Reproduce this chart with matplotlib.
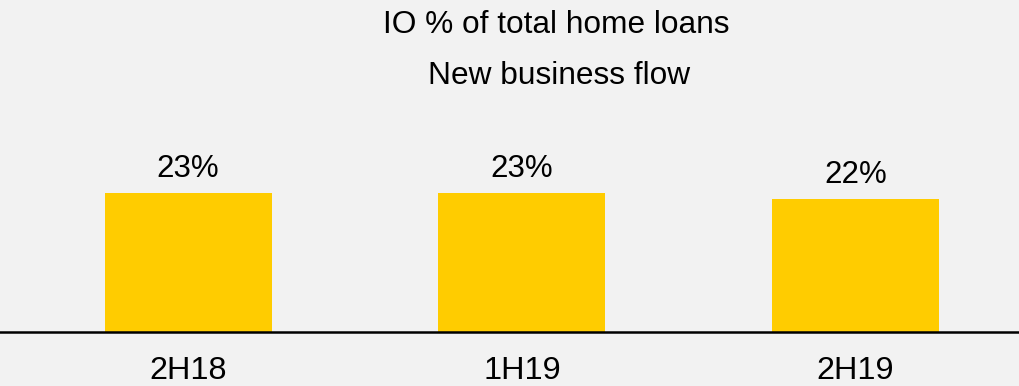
import matplotlib
matplotlib.use("Agg")
import matplotlib.pyplot as plt

categories = ["2H18", "1H19", "2H19"]
values = [23, 23, 22]
value_labels = ["23%", "23%", "22%"]
title_lines = ["IO % of total home loans", "New business flow"]

W, H = 1019, 386
dpi = 100
bg = "#f2f2f2"
bar_color = "#ffcc00"
plt.rcParams["font.family"] = ["Liberation Sans", "DejaVu Sans"]

fig = plt.figure(figsize=(W / dpi, H / dpi), dpi=dpi, facecolor=bg)
axis_px = 332
top_px = 100
ax = fig.add_axes([0, (H - axis_px) / H, 1, (axis_px - top_px) / H])
ax.set_facecolor(bg)

x = list(range(len(categories)))
ax.bar(x, values, width=0.5, color=bar_color)
ax.set_xlim(-0.564, 2.49)
ax.set_ylim(0, (axis_px - top_px) / 6.03)

for xi, v, lab in zip(x, values, value_labels):
    ax.annotate(lab, (xi, v), xytext=(0, 11.5), textcoords="offset points",
                ha="center", va="baseline", fontsize=22.5, color="black")

for s in ["top", "right", "left"]:
    ax.spines[s].set_visible(False)
ax.spines["bottom"].set_linewidth(1.8)
ax.spines["bottom"].set_color("black")
ax.set_yticks([])
ax.set_xticks(x)
ax.set_xticklabels(categories, fontsize=23.3)
ax.tick_params(axis="x", length=0, pad=17)

fig.text(556 / W, 1 - 33 / H, title_lines[0], ha="center", va="baseline", fontsize=22.8)
fig.text(559 / W, 1 - 84 / H, title_lines[1], ha="center", va="baseline", fontsize=22.8)

fig.savefig("out.png", dpi=dpi, facecolor=bg)
